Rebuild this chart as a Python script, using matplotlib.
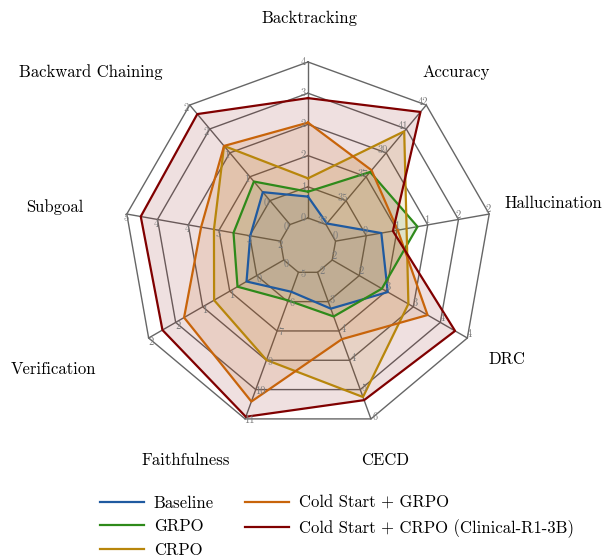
import numpy as np
import matplotlib
matplotlib.use("Agg")
import matplotlib.pyplot as plt

plt.rcParams['font.family'] = ['cmr10', 'DejaVu Serif']
plt.rcParams['mathtext.fontset'] = 'cm'
plt.rcParams['axes.unicode_minus'] = False

# ---------------- data ----------------
axes_names = ["Backtracking", "Accuracy", "Hallucination", "DRC", "CECD",
              "Faithfulness", "Verification", "Subgoal", "Backward Chaining"]
axis_lo = [0.3, 33.4, 0.0, 1.6, 2.2, 4.9, 0.0, 2.0, 0.0]
axis_hi = [3.8, 42.4, 2.25, 4.35, 5.95, 11.15, 2.25, 4.75, 2.25]
tick_labels = [
    ["0", "1", "2", "2", "3", "4"],
    ["33", "35", "37", "39", "41", "42"],
    ["0", "0", "1", "1", "2", "2"],
    ["2", "2", "3", "3", "4", "4"],
    ["2", "3", "4", "4", "5", "6"],
    ["5", "6", "7", "9", "10", "11"],
    ["0", "0", "1", "1", "2", "2"],
    ["2", "3", "3", "4", "4", "5"],
    ["0", "0", "1", "1", "2", "2"],
]
series_names = ["Baseline", "GRPO", "CRPO", "Cold Start + GRPO",
                "Cold Start + CRPO (Clinical-R1-3B)"]
baseline = [0.78, 33.48, 0.67, 2.73, 3.13, 5.73, 0.62, 2.54, 0.61]
grpo = [0.89, 37.36, 1.20, 2.61, 3.33, 6.10, 0.77, 2.84, 0.81]
crpo = [1.19, 40.42, 1.04, 3.15, 5.39, 8.64, 1.16, 3.19, 1.48]
cs_grpo = [2.44, 37.49, 0.91, 3.54, 3.91, 10.41, 1.66, 3.42, 1.48]
cs_crpo = [2.99, 41.88, 0.84, 4.10, 5.47, 11.06, 2.02, 4.50, 2.08]
series_values = [baseline, grpo, crpo, cs_grpo, cs_crpo]
colors = ["#1f5aa0", "#2e8a1a", "#b8860b", "#c8640a", "#800000"]

# ---------------- layout ----------------
W, H = 602, 557
CX, CY, RPX = 308, 246, 184   # center and outer radius in pixels
INNER = 28 / 184.0
NRING = 5

fig = plt.figure(figsize=(W / 100, H / 100), dpi=100)
ax = fig.add_axes([0, 0, 1, 1])
ax.set_xlim(-CX / RPX, (W - CX) / RPX)
ax.set_ylim(-(H - CY) / RPX, CY / RPX)
ax.axis('off')

n = len(axes_names)
angles = np.deg2rad(90 - 40 * np.arange(n))


def to_radius(vals):
    v = np.asarray(vals, float)
    lo = np.asarray(axis_lo)
    hi = np.asarray(axis_hi)
    return INNER + (1 - INNER) * (v - lo) / (hi - lo)


# grid rings
grid_col = "#666666"
for k in range(NRING + 1):
    r = INNER + (1 - INNER) * k / NRING
    xs = r * np.cos(angles)
    ys = r * np.sin(angles)
    ax.plot(np.r_[xs, xs[0]], np.r_[ys, ys[0]], color=grid_col, lw=1.0, zorder=1)
# spokes
for a in angles:
    ax.plot([INNER * np.cos(a), np.cos(a)], [INNER * np.sin(a), np.sin(a)],
            color=grid_col, lw=1.0, zorder=1)

# tick labels
off = 4.5 / RPX
for i, a in enumerate(angles):
    px, py = np.cos(a + np.pi / 2), np.sin(a + np.pi / 2)
    for k in range(NRING + 1):
        r = INNER + (1 - INNER) * k / NRING
        ax.text(r * np.cos(a) + off * px, r * np.sin(a) + off * py,
                tick_labels[i][k], fontsize=7.5, color="#7a7a7a",
                ha='center', va='center', zorder=5)

# series
for name, vals, c in zip(series_names, series_values, colors):
    r = to_radius(vals)
    xs = r * np.cos(angles)
    ys = r * np.sin(angles)
    xs = np.r_[xs, xs[0]]
    ys = np.r_[ys, ys[0]]
    ax.fill(xs, ys, color=c, alpha=0.12, lw=0, zorder=2)
    ax.plot(xs, ys, color=c, lw=1.6, label=name, zorder=3)

# axis labels (pixel centres)
label_px = [(309, 18), (456, 72), (553, 203), (507, 359), (385, 460),
            (186, 460), (53, 369), (55, 207), (91, 72)]
for name, (lx, ly) in zip(axes_names, label_px):
    ax.text((lx - CX) / RPX, (CY - ly) / RPX, name, fontsize=12,
            ha='center', va='center', color='black')

handles, labels = ax.get_legend_handles_labels()
fig.legend(handles, labels, ncol=2, frameon=False, fontsize=12,
           loc='upper left', bbox_to_anchor=(92 / W, 1 - 487 / H),
           borderpad=0, handlelength=2.6, handletextpad=0.6,
           columnspacing=1.9, labelspacing=0.5)

fig.savefig("out.png", dpi=100)
